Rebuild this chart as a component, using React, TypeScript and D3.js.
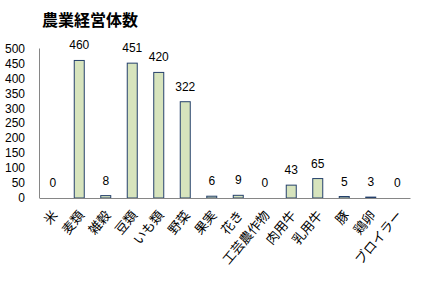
import React from "react";
import * as d3 from "d3";

const categories = ["米", "麦類", "雑穀", "豆類", "いも類", "野菜", "果実", "花き", "工芸農作物", "肉用牛", "乳用牛", "豚", "鶏卵", "ブロイラー"];
const values = [0, 460, 8, 451, 420, 322, 6, 9, 0, 43, 65, 5, 3, 0];
const yTicks = [0, 50, 100, 150, 200, 250, 300, 350, 400, 450, 500];
const title = "農業経営体数";

export default function App() {
  const W = 421, H = 281;
  const x = d3.scaleBand<string>().domain(categories).range([39.5, 410.5]).padding(0);
  const y = d3.scaleLinear().domain([0, 500]).range([198, 48.5]);
  const barW = 10;
  const jp = "'Noto Sans CJK JP', 'Noto Sans', sans-serif";
  const num = "'Liberation Sans', 'Noto Sans', sans-serif";
  return (
    <svg width={W} height={H} style={{ position: "absolute", left: 0, top: 0, background: "#fff" }}>
      <text x={42} y={26} fontFamily={jp} fontWeight="bold" fontSize={16} fill="#000">{title}</text>
      {yTicks.map((t) => (
        <text key={t} x={25} y={y(t)} dy="0.35em" textAnchor="end" fontFamily={num} fontSize={12} fill="#000">{t}</text>
      ))}
      <line x1={39.5} x2={39.5} y1={y(500)} y2={198} stroke="#868686" strokeWidth={1} />
      {categories.map((c, i) => {
        const cx = (x(c) as number) + x.bandwidth() / 2;
        const v = values[i];
        return (
          <g key={c}>
            {v > 0 && (
              <rect x={cx - barW / 2} y={y(v)} width={barW} height={198 - y(v)} fill="#D7E4BD" stroke="#24406B" strokeWidth={1} />
            )}
            <text x={cx} y={y(v) - 11} textAnchor="middle" fontFamily={num} fontSize={12} fill="#000">{v}</text>
            <text transform={`translate(${cx + 1.5},212) rotate(-50)`} textAnchor="end" dominantBaseline="central" fontFamily={jp} fontSize={13} fill="#000">{c}</text>
          </g>
        );
      })}
      <line x1={39.5} x2={410.5} y1={198.5} y2={198.5} stroke="#868686" strokeWidth={1} />
    </svg>
  );
}
